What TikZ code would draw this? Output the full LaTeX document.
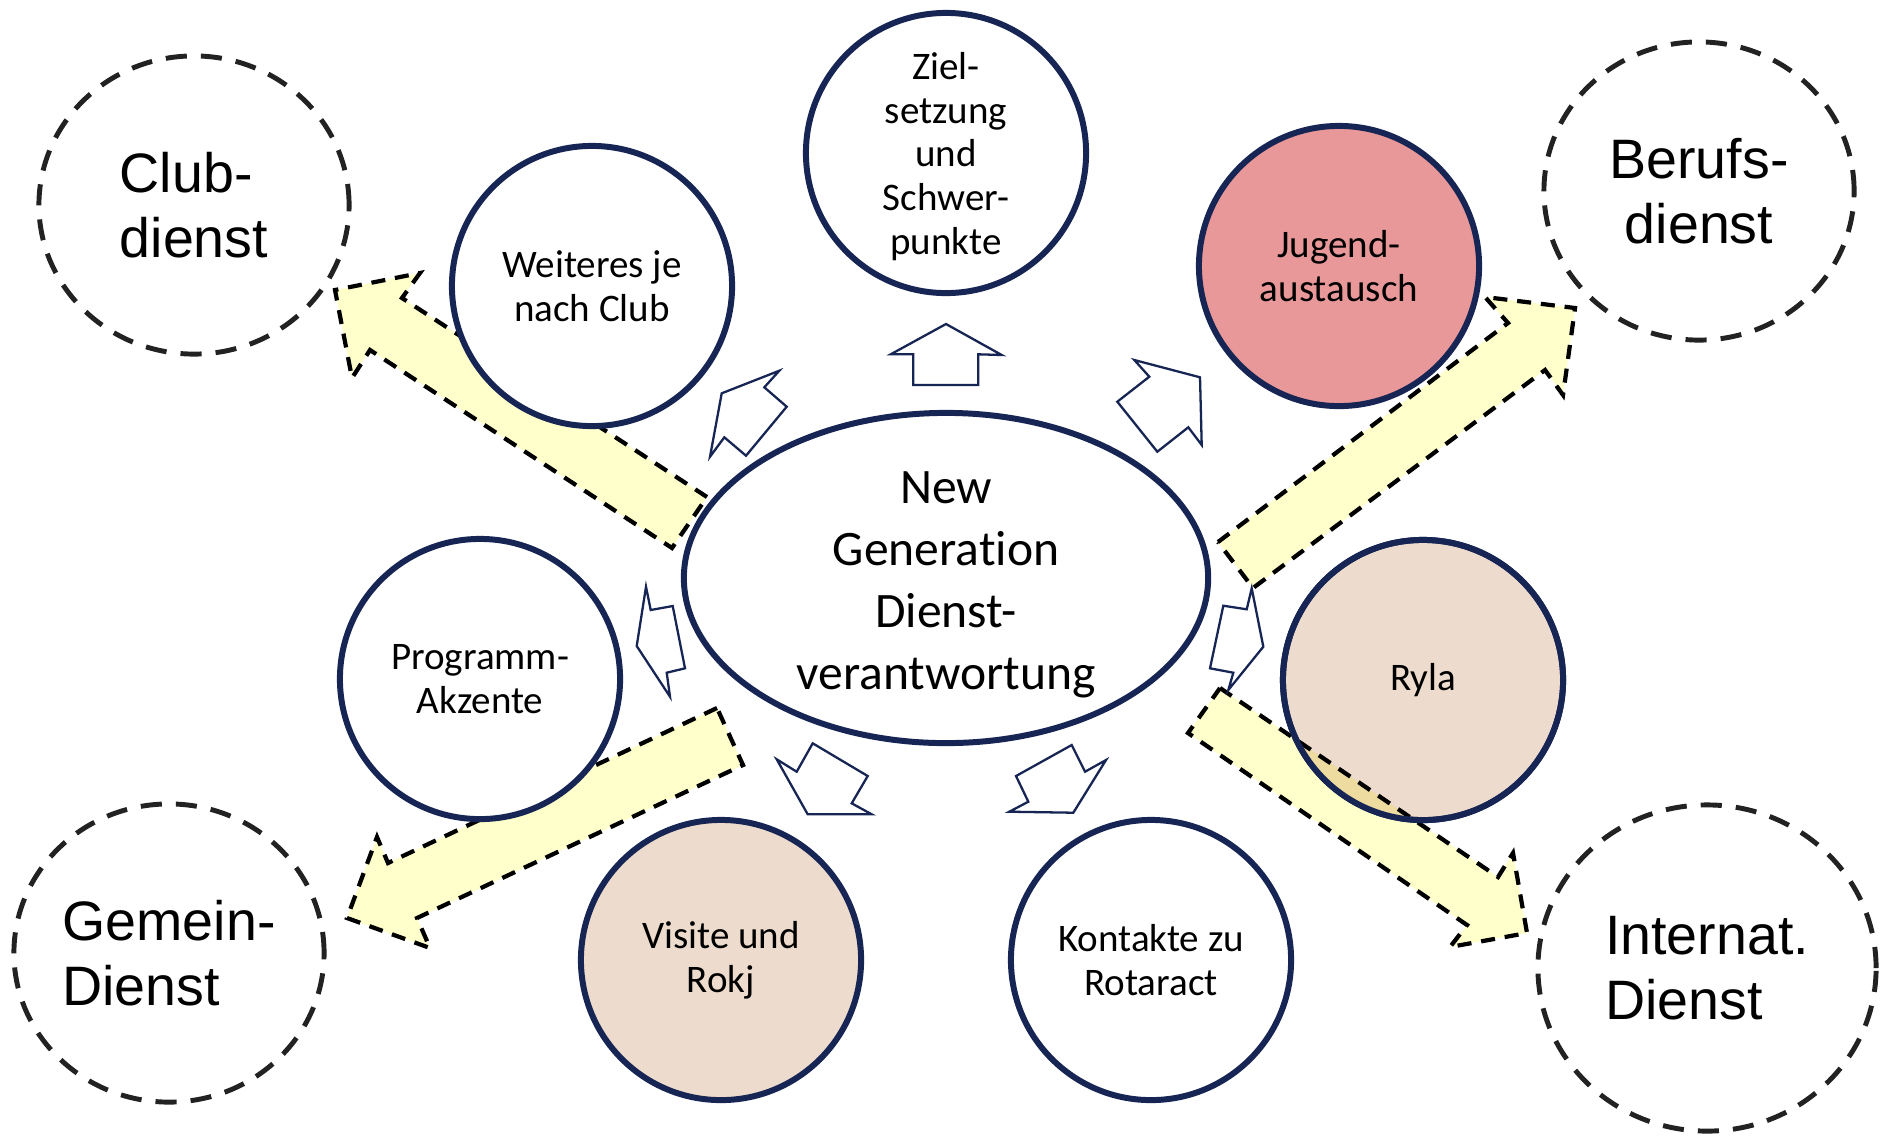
\documentclass[tikz,border=0pt]{standalone}
\usepackage{fontspec}
\setmainfont{Carlito}[Ligatures={NoCommon}]
\newfontfamily\arialfont{Liberation Sans}
\usetikzlibrary{shapes.geometric}
\definecolor{navy}{RGB}{22,37,84}
\definecolor{rosefill}{RGB}{232,152,153}
\definecolor{tanfill}{RGB}{237,220,205}
\definecolor{paleyellow}{RGB}{255,255,204}
\definecolor{overlapfill}{RGB}{237,219,160}
\definecolor{dashgray}{RGB}{34,34,34}
\begin{document}
\begin{tikzpicture}[x=0.01cm,y=-0.01cm,
  bubble/.style={circle, draw=navy, line width=1.7pt, minimum size=2.80cm, inner sep=0pt,
    align=center, font=\fontsize{11.1}{12.4}\selectfont, fill=white},
  bubbletext/.style={align=center, inner sep=0pt, font=\fontsize{11.1}{12.4}\selectfont},
  hub/.style={ellipse, draw=navy, line width=1.7pt, minimum width=5.24cm, minimum height=3.30cm,
    inner sep=0pt, fill=white},
  hubtext/.style={align=center, inner sep=0pt, font=\fontsize{14.1}{17.6}\selectfont},
  area/.style={ellipse, draw=dashgray, line width=1.4pt, dash pattern=on 6pt off 4pt,
    inner sep=0pt, font=\arialfont\fontsize{15.8}{18.5}\selectfont},
  bigarrow/.style={fill=paleyellow, draw=black, line width=1.2pt, dash pattern=on 4pt off 2.8pt, line join=miter},
  smallarrow/.style={fill=white, draw=navy, line width=0.65pt, line join=miter}]
\useasboundingbox (0,0) rectangle (1880,1136);

% outer dashed areas
\node[area, minimum width=3.10cm, minimum height=2.98cm, align=left] (club) at (194,205) {Club-\\dienst};
\node[area, minimum width=3.10cm, minimum height=2.98cm, align=center] (berufs) at (1699,191) {Berufs-\\dienst};
\node[area, minimum width=3.10cm, minimum height=2.98cm, align=left] (gemein) at (169,953) {Gemein-\\Dienst};
\node[area, minimum width=3.38cm, minimum height=3.26cm, align=left] (internat) at (1707,968) {Internat.\\Dienst};

% big yellow arrows
\draw[bigarrow] (707,497) -- (402,298) -- (420,273) -- (335,290) -- (352,378) -- (370,350) -- (672,548) -- cycle;
\draw[bigarrow] (1218,542) -- (1508,323) -- (1485,297) -- (1575,308) -- (1563,395) -- (1545,370) -- (1253,588) -- cycle;
\draw[bigarrow] (717,708) -- (388,863) -- (377,837) -- (347,918) -- (430,948) -- (417,918) -- (743,765) -- cycle;
\coordinate (i1) at (1220,688); \coordinate (i2) at (1498,877); \coordinate (i3) at (1513,853);
\coordinate (i4) at (1527,933); \coordinate (i5) at (1450,947); \coordinate (i6) at (1467,925);
\coordinate (i7) at (1188,733);
\draw[bigarrow] (i1) -- (i2) -- (i3) -- (i4) -- (i5) -- (i6) -- (i7) -- cycle;

% hub and bubbles
\node[hub] (hub) at (946,578) {};
\node[hubtext, yshift=-2pt] (hubtxt) at (hub.center) {New\\Generation\\Dienst-\\verantwortung};
\node[bubble] (ziel) at (946,153) {};
\node[bubbletext, yshift=-1pt] (zieltxt) at (ziel.center) {Ziel-\\setzung\\und\\Schwer-\\punkte};
\node[bubble] (weiteres) at (592,286) {Weiteres je\\nach Club};
\node[bubble, fill=rosefill] (jugend) at (1339,266) {Jugend-\\austausch};
\node[bubble] (programm) at (480,679) {Programm-\\Akzente};
\node[bubble, fill=tanfill] (ryla) at (1423,680) {Ryla};
\node[bubble, fill=tanfill] (visite) at (721,960) {Visite und\\Rokj};
\node[bubble] (kontakte) at (1151,960) {Kontakte zu\\Rotaract};

% arrow showing through Ryla
\begin{scope}
  \clip (ryla.center) circle[radius=1.40cm];
  \fill[overlapfill] (i1) -- (i2) -- (i3) -- (i4) -- (i5) -- (i6) -- (i7) -- cycle;
  \draw[bigarrow, fill=none] (i1) -- (i2) -- (i3) -- (i4) -- (i5) -- (i6) -- (i7) -- cycle;
\end{scope}
\draw[navy, line width=1.7pt] (ryla.center) circle[radius=1.40cm];

% small outline arrows
\draw[smallarrow] (946,324) -- (1001.7,355) -- (978.3,354.3) -- (978.3,385) -- (913.3,385) -- (913.3,354.3) -- (890.7,354.3) -- cycle;
\draw[smallarrow] (779.3,370.7) -- (721.7,393.3) -- (710,456.7) -- (724.3,437.3) -- (746,455.7) -- (786.7,406.7) -- (764.3,387.3) -- cycle;
\draw[smallarrow] (1134.3,360) -- (1200,377.3) -- (1201.7,445) -- (1188.3,427.3) -- (1157.3,451.7) -- (1117.3,401.7) -- (1149.3,376.7) -- cycle;
\draw[smallarrow] (646,586.7) -- (650.7,610) -- (672.7,606) -- (685,668.3) -- (666.7,672.7) -- (670,696.7) -- (636.7,646) -- cycle;
\draw[smallarrow] (1251.7,588.3) -- (1263.3,646.7) -- (1228.3,690) -- (1233.3,672.7) -- (1210,668.3) -- (1223.3,605.7) -- (1246.7,609.3) -- cycle;
\draw[smallarrow] (776.7,759.3) -- (796.7,771.7) -- (812.7,743.3) -- (867.7,776) -- (851.7,803.3) -- (871.7,814.3) -- (807.7,814.3) -- cycle;
\draw[smallarrow] (1016,776) -- (1071.7,745) -- (1085,771.7) -- (1106,760) -- (1073.3,812.7) -- (1009.3,811.7) -- (1028.3,801.7) -- cycle;
\end{tikzpicture}
\end{document}
